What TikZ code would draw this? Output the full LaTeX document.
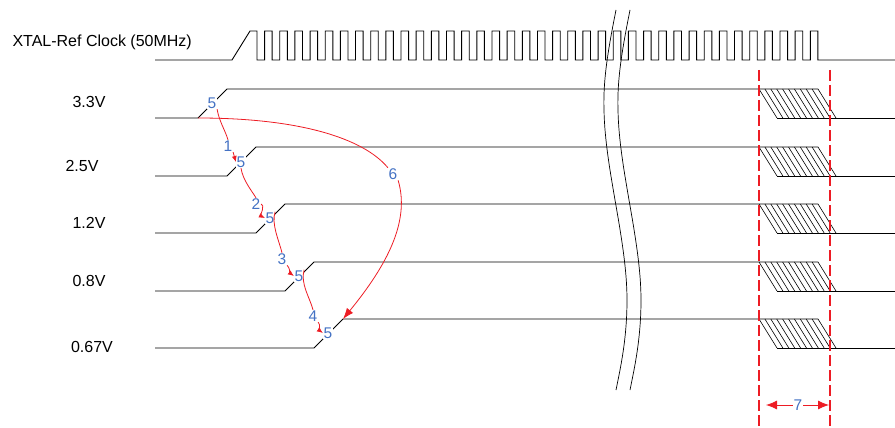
\documentclass[tikz,border=0pt]{standalone}
\usepackage{fontspec}
\setmainfont{Liberation Sans}
\usetikzlibrary{arrows.meta}
\definecolor{seqred}{RGB}{237,28,36}
\definecolor{seqblue}{RGB}{68,114,196}

\begin{document}
\begin{tikzpicture}[x=1pt, y=-1pt,
  sig/.style={line width=0.9pt},
  railname/.style={font=\fontsize{16}{18}\selectfont},
  stepnum/.style={text=seqblue, fill=white, inner sep=0.6pt, font=\fontsize{15.5}{17}\selectfont},
  seqarrow/.style={seqred, line width=0.8pt},
  smalltip/.style={-{Latex[length=6pt,width=5pt]}},
  limit/.style={seqred, line width=2.5pt, dash pattern=on 11pt off 4pt}]
\useasboundingbox (0,0) rectangle (895,428);

% ramp start / end of each rail
\coordinate (r1s) at (198,118); \coordinate (r1e) at (227,89);
\coordinate (r2s) at (227,176); \coordinate (r2e) at (256,147);
\coordinate (r3s) at (256,233); \coordinate (r3e) at (285,204);
\coordinate (r4s) at (285,291); \coordinate (r4e) at (314,262);
\coordinate (r5s) at (314,348); \coordinate (r5e) at (343,319);

% names
\node[railname, anchor=west] (clk) at (9,42) {XTAL-Ref Clock (50MHz)};
\node[railname] (v1) at (89,102) {3.3V};
\node[railname] (v2) at (82,166) {2.5V};
\node[railname] (v3) at (89,223) {1.2V};
\node[railname] (v4) at (89,281) {0.8V};
\node[railname] (v5) at (92,347) {0.67V};

% clock
\draw[sig] (155,60) -- (232,60) -- (250,31) -- (257,31)
  \foreach \k in {1,...,37} { -- ++(0,29) -- ++(7.58,0) -- ++(0,-29) -- ++(7.58,0) }
  -- ++(0,29) -- (895,60);

% rails
\draw[sig] (155,118) -- (r1s) -- (r1e) -- (818,89);
\draw[sig] (155,176) -- (r2s) -- (r2e) -- (818,147);
\draw[sig] (155,233) -- (r3s) -- (r3e) -- (818,204);
\draw[sig] (155,291) -- (r4s) -- (r4e) -- (818,262);
\draw[sig] (155,348) -- (r5s) -- (r5e) -- (818,319);

% falling edges, hatched
\foreach \yh in {89,147,204,262,319} {
  \draw[sig] (777,\yh+29) -- (895,\yh+29);
  \foreach \k in {0,...,10}
    \draw[line width=0.6pt] (759+5.9*\k,\yh) -- ++(18,29);
}

% break
\foreach \dx in {0,14}
  \draw[line width=0.7pt] (616+\dx,10) .. controls (608+\dx,50) and (603+\dx,80) .. (604+\dx,110)
    .. controls (605+\dx,170) and (627+\dx,240) .. (627+\dx,300)
    .. controls (627+\dx,340) and (620+\dx,370) .. (616+\dx,390);

% step numbers
\node[stepnum] (five1) at (212,103) {5};
\node[stepnum] (five2) at (241,162) {5};
\node[stepnum] (five3) at (270,218) {5};
\node[stepnum] (five4) at (299,276) {5};
\node[stepnum] (five5) at (328,333) {5};
\node[stepnum] (n1) at (228,146) {1};
\node[stepnum] (n2) at (256,204) {2};
\node[stepnum] (n3) at (282,259) {3};
\node[stepnum] (n4) at (313,316) {4};
\node[stepnum] (n6) at (393,174) {6};
\node[stepnum] (n7) at (798,405) {7};

% sequence
\draw[seqarrow] (five1.south east) .. controls +(2,12) and +(-3,-10) .. (n1.north);
\draw[seqarrow, smalltip] (n1.south east) -- (five2.west);
\draw[seqarrow] (five2.south) .. controls +(2,12) and +(-5,-8) .. (n2.north);
\draw[seqarrow, smalltip] (n2.east) .. controls +(4,0) and +(-4,-2) .. (five3.west);
\draw[seqarrow] (five3.north east) .. controls +(-4,12) and +(-3,-12) .. (n3.north);
\draw[seqarrow, smalltip] (n3.south east) .. controls +(3,3) and +(-4,-3) .. (five4.west);
\draw[seqarrow] (five4.north east) .. controls +(-4,14) and +(-3,-12) .. (n4.north);
\draw[seqarrow, smalltip] (n4.south east) .. controls +(3,3) and +(-4,-3) .. (five5.west);
\draw[seqarrow] (r1s) .. controls +(100,0) and +(-25,-30) .. (n6.north west);
\draw[seqarrow, -{Latex[length=11pt,width=8pt]}] (n6.south east) .. controls +(12,40) and +(45,-55) .. (r5e);

% shutdown window
\coordinate (d1t) at (759,70); \coordinate (d1b) at (759,428);
\coordinate (d2t) at (830,70); \coordinate (d2b) at (830,428);
\draw[limit] (d1t) -- (d1b);
\draw[limit] (d2t) -- (d2b);
\coordinate (m1) at (766,405); \coordinate (m2) at (829,405);
\draw[seqarrow, -{Latex[length=11pt,width=9pt]}] (n7) -- (m1);
\draw[seqarrow, -{Latex[length=11pt,width=9pt]}] (n7) -- (m2);
\end{tikzpicture}
\end{document}
